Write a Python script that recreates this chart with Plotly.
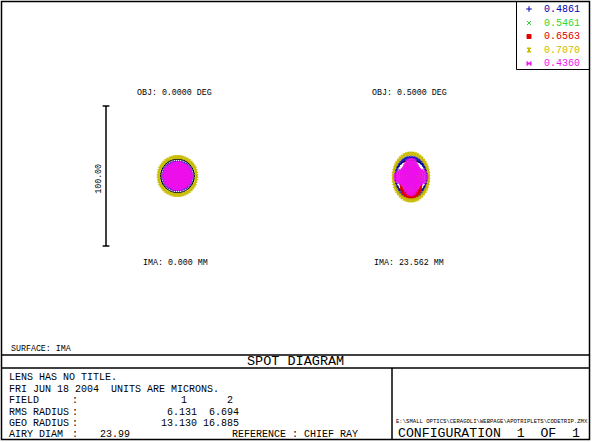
import math
import plotly.graph_objects as go

W, H = 592, 442
MONO = "Liberation Mono"

# ---------------- data ----------------
wavelengths = ["0.4861", "0.5461", "0.6563", "0.7070", "0.4360"]
wave_colors = ["#0000b4", "#2fd82f", "#e00000", "#c8bc00", "#ee10ee"]
wave_symbols = ["cross-thin", "x-thin", "square", "hourglass", "bowtie"]

field_labels = ["OBJ: 0.0000 DEG", "OBJ: 0.5000 DEG"]
image_labels = ["IMA: 0.000 MM", "IMA: 23.562 MM"]
field_numbers = ["1", "2"]
rms_radius = ["6.131", "6.694"]
geo_radius = ["13.130", "16.885"]
airy_diam = 23.99
scale_bar_um = 100.0

# image radius (microns) of each hexapolar pupil ring, field 1 (on axis)
f1_blue = [1.2, 2.5, 3.7, 5.0, 6.2, 7.5, 8.8, 10.3]
f1_green = [0.4, 0.9, 1.3, 1.8, 2.2, 2.7, 3.1, 3.6]
f1_red = [0.9, 1.8, 2.7, 3.6, 4.5, 5.4, 6.3, 7.6]
f1_yellow = [1.2, 2.4, 3.6, 4.8, 6.0, 7.2, 13.3, 13.8]
f1_magenta = [1.2, 2.4, 3.6, 4.8, 6.0, 7.2, 8.4, 9.6]

# field 2 (0.5 deg)
f2_blue = [1.0, 2.0, 3.0, 4.0, 5.0, 6.0, 11.2, 11.6]
f2_green = [0.8, 1.6, 2.4, 3.2, 4.0, 4.8, 5.6, 6.4]
f2_red = [1.1, 2.2, 3.3, 4.4, 5.5, 6.6, 7.7, 8.8]
f2_yellow = [1.2, 2.4, 3.6, 4.8, 6.0, 7.2, 12.4, 12.8]
f2_magenta = [1.2, 2.3, 3.5, 4.6, 5.8, 7.0, 8.1, 9.3]
f2_xscale = [1.0, 1.0, 0.75, 1.0, 1.0]
f2_yscale = [1.27, 1.2, 1.0, 1.33, 1.15]
f2_yshift = [-0.5, -1.0, -5.5, 0.0, 0.0]
f2_lobe = [0.0, 0.1, 0.0, 0.0, 0.2]

field1_rings = [f1_blue, f1_green, f1_red, f1_yellow, f1_magenta]
field2_rings = [f2_blue, f2_green, f2_red, f2_yellow, f2_magenta]


def hexapolar(radii, sx=1.0, sy=1.0, dy=0.0, lobe=0.0):
    xs, ys = [0.0], [dy]
    for k, r in enumerate(radii, start=1):
        n = 6 * k
        for j in range(n):
            t = 2 * math.pi * j / n
            rr = r * (1 + lobe * math.cos(4 * t))
            xs.append(sx * rr * math.cos(t))
            ys.append(dy + sy * rr * math.sin(t))
    return xs, ys


# ---------------- layout geometry (pixels) ----------------
PX_PER_UM = 1.4
HALF = 100
centers = [(177.5, 176), (411, 177)]


def xdom(cx):
    return [(cx - HALF) / W, (cx + HALF) / W]


def ydom(cy):
    return [1 - (cy + HALF) / H, 1 - (cy - HALF) / H]


def PX(x):
    return x / W


def PY(y):
    return 1 - y / H


fig = go.Figure()

marker_sizes = [3, 3, 3, 2.5, 2.6]
axes = [("x", "y"), ("x2", "y2")]
for fi, rings in enumerate([field1_rings, field2_rings]):
    xa, ya = axes[fi]
    for wi in range(5):
        if fi == 0:
            xs, ys = hexapolar(rings[wi])
        else:
            xs, ys = hexapolar(rings[wi], f2_xscale[wi], f2_yscale[wi], f2_yshift[wi], f2_lobe[wi])
        fig.add_trace(go.Scatter(
            x=xs, y=ys, mode="markers", xaxis=xa, yaxis=ya, showlegend=False,
            hoverinfo="skip",
            marker=dict(symbol=wave_symbols[wi], size=marker_sizes[wi], color=wave_colors[wi],
                        line=dict(width=0.7, color=wave_colors[wi]))))

# legend markers
legend_rows = [9, 23, 36.5, 50, 63.5]
fig.add_trace(go.Scatter(
    x=[12] * 5, y=legend_rows, mode="markers", xaxis="x3", yaxis="y3",
    showlegend=False, hoverinfo="skip",
    marker=dict(symbol=wave_symbols, size=4, color=wave_colors,
                line=dict(width=1, color=wave_colors))))

rng = HALF / PX_PER_UM
ax_common = dict(visible=False, showgrid=False, zeroline=False, fixedrange=True)
fig.update_layout(
    width=W, height=H, margin=dict(l=0, r=0, t=0, b=0),
    paper_bgcolor="white", plot_bgcolor="rgba(0,0,0,0)",
    xaxis=dict(domain=xdom(centers[0][0]), range=[-rng, rng], **ax_common),
    yaxis=dict(domain=ydom(centers[0][1]), range=[-rng, rng], **ax_common),
    xaxis2=dict(domain=xdom(centers[1][0]), range=[-rng, rng], anchor="y2", **ax_common),
    yaxis2=dict(domain=ydom(centers[1][1]), range=[-rng, rng], anchor="x2", **ax_common),
    xaxis3=dict(domain=[517 / W, 590 / W], range=[0, 73], anchor="y3", **ax_common),
    yaxis3=dict(domain=[1 - 70 / H, 1], range=[70, 0], anchor="x3", **ax_common),
)

shapes = []
# Airy circles
r_airy = airy_diam / 2
for xa, ya in axes:
    shapes.append(dict(type="circle", xref=xa, yref=ya, x0=-r_airy, x1=r_airy,
                       y0=-r_airy, y1=r_airy, line=dict(color="black", width=1.3),
                       layer="below"))
# scale bar (in field-1 microns)
sb_x = (106 - centers[0][0]) / PX_PER_UM
half_bar = scale_bar_um / 2
tick = 2.4
bl = dict(color="black", width=1.5)
shapes.append(dict(type="line", xref="x", yref="y", x0=sb_x, x1=sb_x, y0=-half_bar, y1=half_bar, line=bl))
shapes.append(dict(type="line", xref="x", yref="y", x0=sb_x - tick, x1=sb_x + tick, y0=half_bar, y1=half_bar, line=bl))
shapes.append(dict(type="line", xref="x", yref="y", x0=sb_x - tick, x1=sb_x + tick, y0=-half_bar, y1=-half_bar, line=bl))

# frame lines (paper)
fl = dict(color="black", width=1.5)
shapes.append(dict(type="rect", xref="paper", yref="paper", x0=PX(1.5), x1=PX(589.5),
                   y0=PY(439.5), y1=PY(1.5), line=fl))
shapes.append(dict(type="rect", xref="paper", yref="paper", x0=PX(516.5), x1=PX(589.5),
                   y0=PY(69.5), y1=PY(1.5), line=dict(color="black", width=1)))
shapes.append(dict(type="line", xref="paper", yref="paper", x0=PX(1.5), x1=PX(589.5),
                   y0=PY(355), y1=PY(355), line=fl))
shapes.append(dict(type="line", xref="paper", yref="paper", x0=PX(1.5), x1=PX(589.5),
                   y0=PY(368), y1=PY(368), line=fl))
shapes.append(dict(type="line", xref="paper", yref="paper", x0=PX(392), x1=PX(392),
                   y0=PY(368), y1=PY(439.5), line=fl))

ann = []


def txt(s, x, y, size, anchor="left", color="black", angle=0):
    ann.append(dict(text=s, x=PX(x), y=PY(y), xref="paper", yref="paper",
                    xanchor=anchor, yanchor="middle", showarrow=False,
                    textangle=angle, font=dict(family=MONO, size=size, color=color)))


# legend text
for wi in range(5):
    txt(wavelengths[wi], 542, legend_rows[wi], 10, color=wave_colors[wi])

# field labels
obj_x = [174.5, 409]
ima_x = [175, 409]
for fi in range(2):
    txt(field_labels[fi], obj_x[fi], 92, 8.3, anchor="center")
    txt(image_labels[fi], ima_x[fi], 262, 8.3, anchor="center")

# scale bar label
ann.append(dict(text=f"{scale_bar_um:.2f}", x=(99 - centers[0][0]) / PX_PER_UM, y=-2,
                xref="x", yref="y", xanchor="center", yanchor="middle", showarrow=False,
                textangle=-90, font=dict(family=MONO, size=8.3, color="black")))

txt("SURFACE: IMA", 9, 348, 8.3)
txt("SPOT DIAGRAM", 295, 361.5, 13.5, anchor="center")

rows = [377.5, 389, 400.5, 412, 423, 434.5]
txt("LENS HAS NO TITLE.", 7, rows[0], 10)
txt("FRI JUN 18 2004  UNITS ARE MICRONS.", 7, rows[1], 10)
labels = ["FIELD", "RMS RADIUS", "GEO RADIUS", "AIRY DIAM"]
for i, lab in enumerate(labels):
    txt(lab, 7, rows[2 + i], 10)
    txt(":", 70, rows[2 + i], 10)
txt(field_numbers[0], 189, rows[2], 10, anchor="right")
txt(field_numbers[1], 235, rows[2], 10, anchor="right")
txt(rms_radius[0], 199, rows[3], 10, anchor="right")
txt(rms_radius[1], 241, rows[3], 10, anchor="right")
txt(geo_radius[0], 199, rows[4], 10, anchor="right")
txt(geo_radius[1], 241, rows[4], 10, anchor="right")
txt(f"{airy_diam:.2f}", 98, rows[5], 10)
txt("REFERENCE", 230, rows[5], 10)
txt(": CHIEF RAY", 290, rows[5], 10)

txt("E:\\SMALL OPTICS\\CERAGOLI\\WEBPAGE\\APOTRIPLETS\\CODETRIP.ZMX", 394, 421, 5.6)
txt("CONFIGURATION  1  OF  1", 396, 433.5, 13.2)

fig.update_layout(shapes=shapes, annotations=ann)
fig.write_html("out.html")
